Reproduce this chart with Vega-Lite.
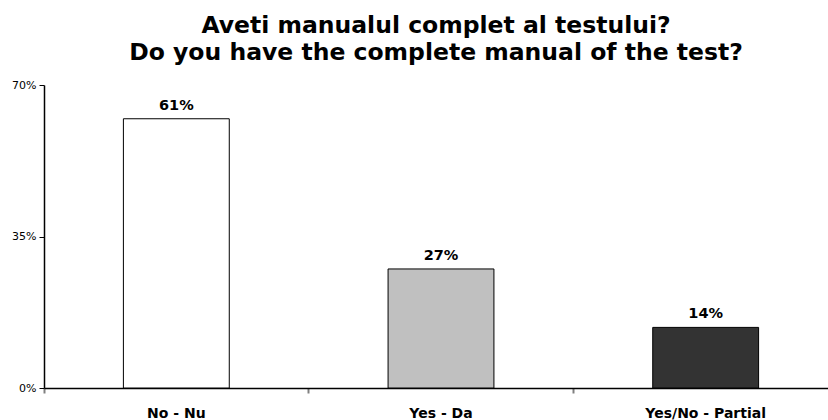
{
  "$schema": "https://vega.github.io/schema/vega-lite/v6.json",
  "autosize": {"type": "none"},
  "padding": {"left": 44, "top": 85, "right": 0, "bottom": 32},
  "width": 784,
  "height": 303,
  "background": "white",
  "config": {"view": {"stroke": null}},
  "title": {
    "text": ["Aveti manualul complet al testului?", "Do you have the complete manual of the test?"],
    "font": "DejaVu Sans",
    "fontSize": 23.5,
    "fontWeight": "bold",
    "color": "black",
    "lineHeight": 27,
    "anchor": "middle",
    "offset": 15
  },
  "data": {
    "values": [
      {"category": "No - Nu", "value": 0.622, "label": "61%", "color": "white"},
      {"category": "Yes - Da", "value": 0.275, "label": "27%", "color": "light"},
      {"category": "Yes/No - Partial", "value": 0.14, "label": "14%", "color": "dark"}
    ]
  },
  "encoding": {
    "x": {
      "field": "category",
      "type": "nominal",
      "sort": null,
      "scale": {"paddingInner": 0, "paddingOuter": 0, "range": [0, 794]},
      "axis": {
        "title": null,
        "labelAngle": 0,
        "labelFont": "DejaVu Sans",
        "labelFontSize": 14,
        "labelFontWeight": "bold",
        "labelColor": "black",
        "labelPadding": 13,
        "bandPosition": 0,
        "tickSize": 5,
        "tickColor": "#808080",
        "tickWidth": 2,
        "domainColor": "black",
        "domainWidth": 1.5
      }
    },
    "y": {
      "field": "value",
      "type": "quantitative",
      "scale": {"domain": [0, 0.7]},
      "axis": {
        "title": null,
        "values": [0, 0.35, 0.7],
        "format": ".0%",
        "grid": false,
        "labelFont": "DejaVu Sans",
        "labelFontSize": 11,
        "labelColor": "black",
        "labelPadding": 3,
        "tickSize": 5,
        "tickColor": "black",
        "domainColor": "black",
        "domainWidth": 1.5
      }
    }
  },
  "layer": [
    {
      "mark": {"type": "bar", "width": {"band": 0.4}, "stroke": "black", "strokeWidth": 1},
      "encoding": {
        "fill": {
          "field": "color",
          "type": "nominal",
          "scale": {"domain": ["white", "light", "dark"], "range": ["#ffffff", "#c0c0c0", "#333333"]},
          "legend": null
        }
      }
    },
    {
      "mark": {"type": "text", "baseline": "bottom", "dy": -6, "font": "DejaVu Sans", "fontSize": 14.5, "fontWeight": "bold", "color": "black"},
      "encoding": {"text": {"field": "label"}}
    }
  ]
}
